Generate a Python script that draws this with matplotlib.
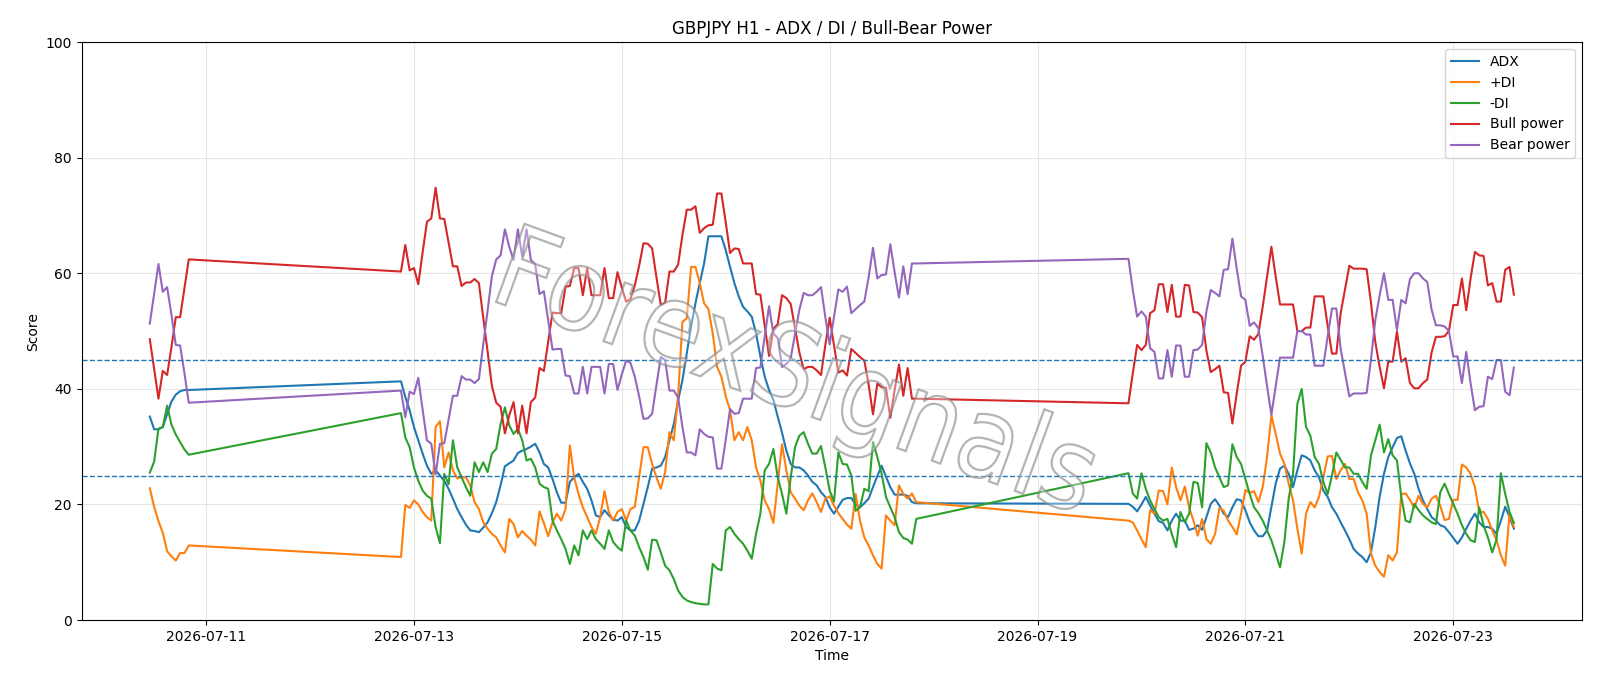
import matplotlib
matplotlib.use("Agg")
import matplotlib.pyplot as plt
import matplotlib.dates as mdates
import pandas as pd
from matplotlib.textpath import TextPath
from matplotlib.patches import PathPatch
from matplotlib.transforms import Affine2D
from matplotlib.font_manager import FontProperties

# trading sessions: (first bar, number of hourly bars)
sessions = [("2026-07-10 11:00", 10), ("2026-07-12 21:00", 120), ("2026-07-19 21:00", 90)]

adx = [
    35.2, 33.0, 33.0, 33.4, 35.6, 37.8, 39.0, 39.6, 39.8, 39.8,
    # week 2
    41.3, 38.6, 36.3, 33.4, 31.1, 28.8, 26.7, 25.3, 25.9, 25.0,
    24.1, 22.7, 21.0, 19.2, 17.8, 16.5, 15.5, 15.4, 15.2, 16.0,
    16.9, 18.5, 20.4, 23.3, 26.6, 27.1, 27.6, 28.9, 29.3, 29.6,
    30.0, 30.5, 29.0, 27.0, 26.4, 24.4, 22.1, 20.3, 20.3, 23.9,
    24.7, 25.3, 23.9, 22.7, 20.7, 18.1, 17.8, 19.0, 18.1, 17.4,
    17.2, 17.8, 16.1, 15.5, 15.5, 17.2, 20.1, 23.0, 26.2, 26.4,
    26.7, 28.2, 31.1, 33.9, 38.0, 41.5, 46.1, 50.8, 54.8, 58.3,
    61.7, 66.4, 66.4, 66.4, 66.4, 64.0, 61.1, 58.3, 56.0, 54.2,
    53.4, 52.5, 49.6, 45.6, 42.1, 39.8, 38.1, 35.2, 32.4, 29.3,
    27.0, 26.4, 26.4, 25.9, 25.0, 23.9, 23.3, 22.1, 21.3, 19.5,
    18.4, 19.6, 20.8, 21.1, 21.1, 20.0, 19.5, 20.2, 21.0, 23.0,
    24.9, 26.7, 24.8, 23.0, 21.7, 21.7, 21.7, 21.5, 20.4, 20.2,
    # week 3
    20.1, 19.6, 18.8, 20.0, 21.3, 19.8, 18.4, 17.1, 16.8, 15.5,
    17.2, 18.4, 17.2, 17.2, 15.6, 15.8, 16.4, 15.6, 17.8, 20.1,
    20.9, 19.8, 18.4, 17.8, 19.5, 20.9, 20.7, 19.0, 16.9, 15.5,
    14.5, 14.5, 15.5, 19.5, 23.6, 26.2, 26.7, 25.3, 23.0, 25.9,
    28.5, 28.2, 27.6, 25.9, 24.7, 22.4, 21.3, 19.5, 18.4, 16.9,
    15.5, 14.0, 12.3, 11.5, 10.9, 10.0, 11.7, 16.1, 21.3, 25.3,
    28.2, 29.9, 31.5, 31.8, 29.3, 27.1, 25.3, 22.7, 20.7, 19.2,
    17.8, 17.2, 16.4, 16.1, 15.2, 14.2, 13.2, 14.3, 15.8, 17.2,
    18.4, 16.9, 16.1, 16.1, 15.8, 14.9, 17.2, 19.6, 17.8, 15.8,
]

plus_di = [
    22.8, 19.6, 17.1, 15.1, 11.9, 11.0, 10.3, 11.6, 11.6, 12.9,
    10.9, 19.9, 19.4, 20.7, 20.0, 18.7, 17.8, 17.2, 33.4, 34.4,
    26.4, 29.0, 25.9, 24.5, 24.7, 24.7, 23.3, 20.4, 19.2, 16.9,
    15.8, 14.9, 14.3, 12.9, 11.7, 17.5, 16.6, 14.3, 15.4, 14.6,
    13.9, 12.9, 18.8, 16.8, 14.5, 16.9, 18.4, 17.2, 19.2, 30.2,
    24.7, 21.8, 19.5, 17.8, 16.1, 14.9, 17.8, 22.3, 18.7, 17.2,
    18.7, 19.2, 17.2, 19.2, 19.6, 24.7, 29.9, 29.9, 27.0, 24.7,
    22.7, 25.6, 32.5, 31.1, 38.8, 51.6, 52.2, 61.1, 61.1, 58.3,
    54.8, 53.8, 49.6, 43.8, 42.1, 38.7, 36.3, 31.1, 32.5, 31.1,
    33.4, 31.1, 26.4, 24.1, 20.7, 19.2, 16.8, 23.6, 30.4, 25.9,
    22.1, 21.0, 19.8, 19.0, 20.7, 21.9, 20.4, 18.7, 21.0, 21.4,
    19.8, 18.5, 17.5, 16.5, 15.8, 21.8, 17.2, 14.3, 12.9, 11.2,
    9.7, 8.9, 18.1, 17.2, 16.4, 23.3, 21.8, 21.0, 21.9, 20.4,
    17.2, 16.9, 15.5, 14.0, 12.6, 19.0, 18.4, 22.4, 22.3, 20.0,
    26.4, 23.0, 20.7, 23.1, 19.5, 17.2, 14.6, 17.5, 14.0, 13.2,
    14.9, 19.4, 18.9, 17.2, 16.1, 14.8, 18.4, 22.5, 22.0, 22.3,
    20.4, 23.0, 28.2, 35.4, 32.2, 28.8, 27.0, 23.6, 20.7, 15.8,
    11.5, 18.4, 20.4, 19.5, 21.3, 24.7, 28.3, 28.4, 24.4, 25.9,
    27.0, 24.4, 24.4, 22.1, 20.7, 18.4, 11.5, 9.4, 8.3, 7.5,
    11.2, 10.3, 11.7, 21.8, 21.9, 20.8, 19.4, 21.5, 20.1, 19.5,
    21.0, 21.5, 19.8, 17.3, 17.5, 20.8, 20.8, 26.9, 26.4, 25.3,
    23.0, 18.7, 18.7, 17.5, 15.5, 13.8, 11.2, 9.4, 18.4, 16.1,
]

minus_di = [
    25.5, 27.4, 33.1, 33.4, 37.1, 33.8, 32.1, 30.8, 29.5, 28.6,
    35.8, 31.6, 29.9, 26.4, 24.1, 22.4, 21.5, 21.0, 16.1, 13.3,
    25.3, 23.5, 31.1, 26.4, 24.7, 23.0, 21.5, 27.3, 25.6, 27.3,
    25.6, 28.8, 29.6, 33.9, 36.8, 33.7, 32.2, 33.1, 31.1, 27.6,
    27.9, 26.4, 23.6, 23.0, 22.7, 17.2, 15.5, 14.0, 12.3, 9.7,
    12.9, 11.2, 15.5, 14.0, 15.5, 14.0, 13.2, 12.3, 15.5, 13.5,
    12.6, 12.0, 17.2, 15.5, 14.6, 12.6, 10.9, 8.7, 13.9, 13.8,
    11.7, 9.4, 8.6, 7.1, 5.1, 4.0, 3.4, 3.1, 2.9, 2.8,
    2.7, 2.7, 9.7, 8.9, 8.6, 15.5, 16.1, 14.9, 14.0, 13.2,
    12.0, 10.6, 14.9, 18.4, 25.9, 27.0, 29.6, 24.7, 21.8, 18.4,
    24.7, 29.9, 31.9, 32.5, 30.5, 28.8, 28.8, 30.1, 26.4, 22.4,
    20.5, 29.0, 27.0, 26.9, 25.0, 18.9, 19.5, 22.7, 22.3, 30.8,
    28.2, 25.3, 21.3, 19.5, 17.8, 15.2, 14.2, 13.9, 13.2, 17.5,
    25.4, 21.9, 21.0, 25.4, 22.7, 20.7, 19.2, 17.8, 17.2, 17.5,
    14.9, 12.6, 18.7, 16.9, 18.4, 23.9, 23.7, 19.5, 30.6, 29.0,
    26.4, 24.7, 23.0, 23.3, 30.4, 28.2, 27.0, 24.4, 21.8, 19.5,
    18.5, 17.2, 15.5, 13.8, 11.5, 9.1, 13.5, 21.0, 25.3, 37.4,
    40.0, 33.4, 31.9, 28.2, 27.0, 23.9, 21.8, 25.0, 29.0, 27.7,
    26.4, 26.4, 25.3, 25.3, 23.9, 22.7, 28.5, 31.1, 33.8, 29.0,
    31.3, 28.5, 27.6, 21.3, 17.2, 16.9, 20.1, 19.0, 18.1, 17.5,
    16.9, 16.6, 22.1, 23.6, 21.8, 20.1, 18.4, 16.4, 14.9, 13.8,
    13.5, 19.5, 16.4, 14.3, 11.7, 13.9, 25.4, 21.8, 18.7, 16.8,
]

bull = [
    48.6, 43.4, 38.3, 43.1, 42.4, 47.2, 52.4, 52.4, 57.4, 62.4,
    60.3, 64.9, 60.5, 60.9, 58.1, 63.6, 68.9, 69.5, 74.8, 69.5,
    69.4, 65.3, 61.2, 61.2, 57.8, 58.4, 58.4, 59.0, 58.3, 52.3,
    46.5, 40.5, 37.6, 36.9, 32.3, 35.4, 37.7, 32.3, 37.1, 32.3,
    37.7, 38.5, 43.6, 43.1, 48.2, 53.2, 53.1, 53.1, 57.7, 57.8,
    60.9, 60.9, 56.2, 60.9, 56.2, 56.2, 56.2, 60.9, 55.7, 55.7,
    60.2, 57.5, 55.1, 55.5, 57.9, 61.3, 65.2, 65.1, 64.3, 59.3,
    54.5, 54.9, 60.3, 60.3, 61.5, 66.6, 71.0, 71.0, 71.6, 67.0,
    67.8, 68.3, 68.4, 73.8, 73.8, 68.8, 63.5, 64.3, 64.2, 61.7,
    61.7, 61.7, 56.4, 56.3, 50.9, 45.7, 50.4, 51.2, 56.2, 55.7,
    54.7, 50.5, 46.3, 43.4, 43.8, 43.8, 43.2, 42.4, 47.6, 52.3,
    47.6, 42.8, 43.2, 42.3, 46.9, 46.2, 45.5, 44.9, 40.7, 35.6,
    40.9, 40.3, 40.2, 35.0, 39.8, 44.2, 38.8, 43.6, 38.3, 38.3,
    37.5, 42.7, 47.6, 46.7, 47.6, 53.1, 53.6, 58.1, 58.1, 53.3,
    58.0, 52.5, 52.5, 58.0, 57.9, 53.3, 53.2, 52.4, 46.6, 42.9,
    43.4, 44.0, 39.4, 39.3, 34.0, 39.2, 44.0, 44.7, 49.1, 48.5,
    49.5, 54.2, 59.4, 64.6, 59.4, 54.6, 54.6, 54.6, 54.6, 50.0,
    50.0, 50.6, 50.6, 56.0, 56.0, 56.0, 50.9, 46.1, 46.1, 53.1,
    57.2, 61.3, 60.8, 60.8, 60.8, 60.7, 54.9, 48.1, 43.8, 40.1,
    44.7, 44.7, 49.9, 44.7, 45.3, 41.0, 40.1, 40.1, 41.0, 41.6,
    46.3, 49.0, 49.0, 49.1, 50.0, 54.5, 54.5, 59.1, 53.6, 59.1,
    63.7, 63.1, 63.0, 57.9, 58.3, 55.1, 55.1, 60.6, 61.1, 56.3,
]

bear = [
    51.3, 56.5, 61.6, 56.8, 57.6, 52.8, 47.6, 47.5, 42.7, 37.6,
    39.7, 35.1, 39.5, 39.1, 41.9, 36.4, 31.1, 30.5, 25.2, 30.5,
    30.6, 34.7, 38.8, 38.8, 42.2, 41.6, 41.6, 41.0, 41.7, 47.7,
    53.5, 59.5, 62.4, 63.1, 67.6, 64.6, 62.3, 67.6, 62.9, 67.6,
    62.3, 61.5, 56.4, 56.9, 51.8, 46.8, 46.9, 46.9, 42.3, 42.2,
    39.2, 39.2, 43.8, 39.2, 43.8, 43.8, 43.8, 39.2, 44.3, 44.3,
    39.8, 42.5, 44.9, 44.5, 42.1, 38.7, 34.8, 34.9, 35.7, 40.7,
    45.5, 45.0, 39.7, 39.7, 38.5, 33.4, 29.0, 29.0, 28.5, 33.0,
    32.2, 31.7, 31.6, 26.2, 26.2, 31.2, 36.5, 35.7, 35.8, 38.3,
    38.3, 38.3, 43.6, 43.7, 49.1, 54.3, 49.6, 48.8, 43.8, 44.3,
    45.3, 49.5, 53.7, 56.6, 56.2, 56.2, 56.8, 57.6, 52.4, 47.7,
    52.4, 57.2, 56.8, 57.7, 53.1, 53.8, 54.5, 55.1, 59.3, 64.4,
    59.1, 59.7, 59.8, 65.0, 60.2, 55.8, 61.2, 56.4, 61.7, 61.7,
    62.5, 57.1, 52.5, 53.4, 52.5, 47.0, 46.4, 41.8, 41.8, 46.7,
    42.1, 47.5, 47.5, 42.1, 42.1, 46.7, 46.8, 47.6, 53.4, 57.1,
    56.6, 56.0, 60.6, 60.7, 66.0, 60.8, 56.0, 55.4, 50.9, 51.5,
    50.5, 45.7, 40.5, 35.5, 40.5, 45.4, 45.4, 45.4, 45.4, 50.0,
    50.0, 49.4, 49.4, 44.0, 44.0, 44.0, 49.1, 53.9, 53.9, 46.9,
    42.8, 38.7, 39.2, 39.2, 39.2, 39.3, 45.1, 51.9, 56.2, 60.0,
    55.4, 55.4, 50.2, 55.4, 54.8, 59.0, 60.0, 60.0, 59.1, 58.5,
    53.7, 51.0, 51.0, 50.8, 50.0, 45.6, 45.6, 41.0, 46.4, 41.0,
    36.3, 36.9, 37.0, 42.1, 41.7, 45.0, 45.0, 39.5, 38.9, 43.7,
]

times = []
for start, n in sessions:
    times.extend(pd.date_range(start, periods=n, freq="h"))

fig, ax = plt.subplots(figsize=(16, 6.86), dpi=100)
fig.subplots_adjust(left=0.051, right=0.9888, bottom=0.0962, top=0.9386)

ax.plot(times, adx, label="ADX")
ax.plot(times, plus_di, label="+DI")
ax.plot(times, minus_di, label="-DI")
ax.plot(times, bull, label="Bull power")
ax.plot(times, bear, label="Bear power")

ax.axhline(45, linestyle="--", linewidth=1)
ax.axhline(25, linestyle="--", linewidth=1)

# watermark: outlined text, a bit taller than wide, centred in pixel space
wm = TextPath((0, 0), "ForexSignals", size=1, prop=FontProperties(family="DejaVu Sans"))
ext = wm.get_extents()
wm_tr = (Affine2D()
         .translate(-(ext.x0 + ext.width / 2), -(ext.y0 + ext.height / 2))
         .scale(100, 114)
         .rotate_deg(-20)
         .translate(797, 686 - 378))
ax.add_patch(PathPatch(wm_tr.transform_path(wm), transform=None, clip_on=False,
                       facecolor=(1, 1, 1, 0.35), edgecolor=(0.55, 0.55, 0.55, 0.65),
                       linewidth=1.6, zorder=5))

ax.set_ylim(0, 100)
ax.xaxis.set_major_locator(mdates.DayLocator(interval=2))
ax.xaxis.set_major_formatter(mdates.DateFormatter("%Y-%m-%d"))
ax.set_title("GBPJPY H1 - ADX / DI / Bull-Bear Power")
ax.set_xlabel("Time")
ax.set_ylabel("Score")
ax.grid(True, alpha=0.3)
ax.legend(loc="upper right")

fig.savefig("out.png", dpi=100)
